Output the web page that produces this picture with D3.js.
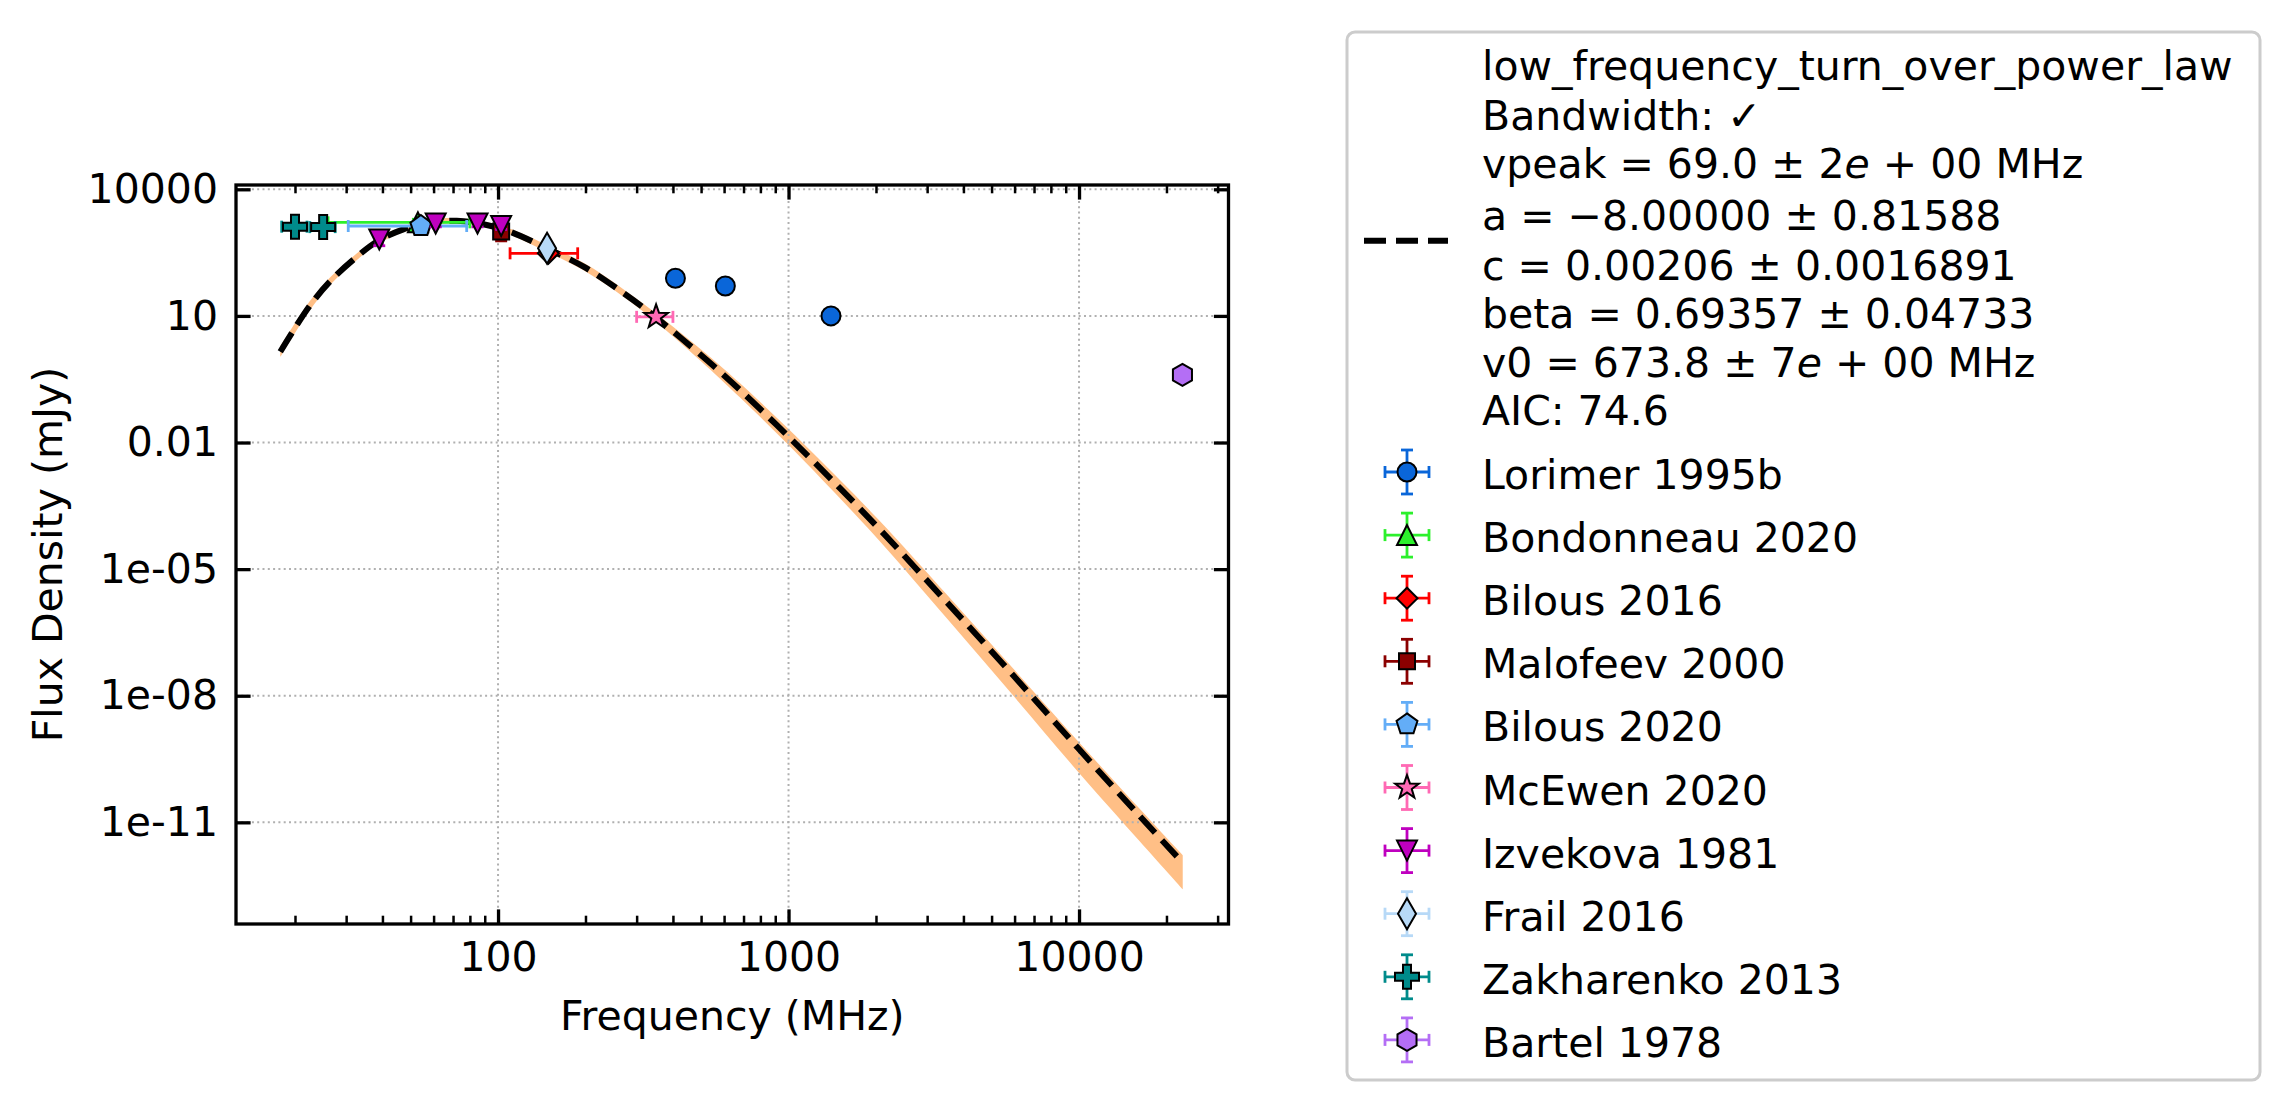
<!DOCTYPE html>
<html>
<head>
<meta charset="utf-8">
<title>low_frequency_turn_over_power_law</title>
<script src="https://cdn.jsdelivr.net/npm/d3@7"></script>
<style>
  html, body { margin: 0; padding: 0; background: #ffffff; overflow: hidden; }
  svg { display: block; }
  text { font-family: "DejaVu Sans", sans-serif; }
</style>
</head>
<body>
<svg width="2289" height="1109" id="mainsvg" style="background-color: #ffffff"></svg>
<script>
// ---- values ----
// fitted model (MHz, mJy) and its uncertainty band
const fitFreq = [17.8, 19.7, 22.5, 26.4, 32.6, 38.2, 47.2, 58.3, 72.1, 89, 110, 147, 197, 270, 347, 523, 681, 998, 1503, 2065, 3505, 5943, 9955, 16230, 22750];
const fitFlux = [1.42, 4.4, 17.5, 66, 250, 573, 1127, 1617, 1803, 1482, 988, 400, 147, 35, 9.6, 0.9, 0.175, 0.014, 8.3e-4, 8.6e-5, 1.65e-6, 3.0e-8, 5.6e-10, 1.38e-11, 1.1e-12];
const fitHigh = [1.92, 5.8, 22.5, 81.2, 300, 673, 1324, 1900, 2070, 1700, 1161, 481, 181, 43.1, 12.1, 1.24, 0.253, 0.0212, 1.29e-3, 1.36e-4, 2.5e-6, 4.34e-8, 8.09e-10, 2.04e-11, 1.67e-12];
const fitLow = [1.05, 3.34, 13.6, 53.7, 208, 488, 959, 1376, 1570, 1291, 841, 333, 120, 28.5, 7.6, 0.637, 0.116, 0.00883, 4.77e-4, 4.52e-5, 6.88e-7, 9.93e-9, 1.54e-10, 3.46e-12, 2.58e-13];

const fitLabelLines = [
  "low_frequency_turn_over_power_law",
  "Bandwidth: ✓",
  "vpeak = 69.0 ± 2{e} + 00 MHz",
  "a = −8.00000 ± 0.81588",
  "c = 0.00206 ± 0.0016891",
  "beta = 0.69357 ± 0.04733",
  "v0 = 673.8 ± 7{e} + 00 MHz",
  "AIC: 74.6"
];

// measurements per reference
const seriesNames = ["Lorimer 1995b", "Bondonneau 2020", "Bilous 2016", "Malofeev 2000", "Bilous 2020",
  "McEwen 2020", "Izvekova 1981", "Frail 2016", "Zakharenko 2013", "Bartel 1978"];
const seriesFreq = [[408, 606, 1400], [53], [149], [102.5], [54.25], [350], [39, 61, 85, 102.5], [147.5], [20, 25], [22700]];
const seriesFreqErr = [[2, 4, 20], [27], [39], [1], [23.75], [50], [1, 1, 1, 1], [4], [2, 2.5], [250]];
const seriesFlux = [[78, 51, 10], [1650], [304], [1000], [1350], [9.5], [650, 1550, 1550, 1350], [400], [1300, 1270], [0.4]];
const seriesFluxErr = [[8, 5, 1], [300], [50], [400], [200], [1], [190, 260, 260, 230], [40], [200, 190], [0.04]];

// axes
const xTicks = [100, 1000, 10000];
const xTickLabels = ["100", "1000", "10000"];
const xMinorTicks = [20, 30, 40, 50, 60, 70, 80, 90, 200, 300, 400, 500, 600, 700, 800, 900,
  2000, 3000, 4000, 5000, 6000, 7000, 8000, 9000, 20000, 30000];
const yTicks = [1e4, 10, 1e-2, 1e-5, 1e-8, 1e-11];
const yTickLabels = ["10000", "10", "0.01", "1e-05", "1e-08", "1e-11"];

// ---- styles ----
const seriesColors = ["#0a66d9", "#2cf02c", "#ff0000", "#8b0000", "#63adf7", "#ff69b4", "#bf00bf", "#b7d9f7", "#008b8b", "#b46ef5"];
const seriesMarkers = ["circle", "triangleUp", "diamond", "square", "pentagon", "star", "triangleDown", "thinDiamond", "plus", "hexagon"];

const svg = d3.select("#mainsvg");
const plot = { left: 236, top: 185, right: 1228.5, bottom: 924 };
const innerWidth = plot.right - plot.left;
const innerHeight = plot.bottom - plot.top;
const fontSize = 41;

const g = svg.append("g").attr("transform", `translate(${plot.left}, ${plot.top})`);

const xScale = d3.scaleLog().domain([12.53, 32700]).range([0, innerWidth]);
const yScale = d3.scaleLog().domain([3.9e-14, 12645]).range([innerHeight, 0]);

function polygon(pts) {
  return "M" + pts.map((p) => p[0].toFixed(2) + "," + p[1].toFixed(2)).join("L") + "Z";
}
function regular(n, r) {
  return d3.range(n).map((k) => {
    const a = -Math.PI / 2 + (2 * Math.PI * k) / n;
    return [r * Math.cos(a), r * Math.sin(a)];
  });
}
function markerPath(type) {
  switch (type) {
    case "circle": {
      const r = 9.5;
      return `M${r},0A${r},${r} 0 1,1 ${-r},0A${r},${r} 0 1,1 ${r},0Z`;
    }
    case "triangleUp": return polygon([[0, -10], [10, 10], [-10, 10]]);
    case "triangleDown": return polygon([[0, 10], [-10, -10], [10, -10]]);
    case "square": return polygon([[-8, -8], [8, -8], [8, 8], [-8, 8]]);
    case "diamond": return polygon([[0, -10.5], [10.5, 0], [0, 10.5], [-10.5, 0]]);
    case "thinDiamond": return polygon([[0, -15.5], [9, 0], [0, 15.5], [-9, 0]]);
    case "pentagon": return polygon(regular(5, 11));
    case "hexagon": return polygon(regular(6, 11));
    case "star": {
      const pts = d3.range(10).map((k) => {
        const a = -Math.PI / 2 + (Math.PI * k) / 5;
        const r = k % 2 === 0 ? 12.5 : 5;
        return [r * Math.cos(a), r * Math.sin(a)];
      });
      return polygon(pts);
    }
    case "plus": {
      const s = 12, w = 4;
      return polygon([[-w, -s], [w, -s], [w, -w], [s, -w], [s, w], [w, w], [w, s], [-w, s], [-w, w], [-s, w], [-s, -w], [-w, -w]]);
    }
  }
}

// uncertainty band
const fitRows = fitFreq.map((f, i) => ({ f, s: fitFlux[i], lo: fitLow[i], hi: fitHigh[i] }));
const band = d3.area()
  .x((d) => xScale(d.f))
  .y0((d) => yScale(d.lo))
  .y1((d) => yScale(d.hi))
  .curve(d3.curveCatmullRom.alpha(0.5));
g.append("path").datum(fitRows).attr("d", band).attr("fill", "#ffbf86");

// grid
const gridStyle = (sel) => sel.attr("stroke", "#b0b0b0").attr("stroke-width", 2).attr("stroke-dasharray", "2,3.3");
g.append("g").selectAll("line").data(xTicks).join("line")
  .attr("x1", (d) => xScale(d)).attr("x2", (d) => xScale(d))
  .attr("y1", 0).attr("y2", innerHeight).call(gridStyle);
g.append("g").selectAll("line").data(yTicks).join("line")
  .attr("y1", (d) => yScale(d)).attr("y2", (d) => yScale(d))
  .attr("x1", 0).attr("x2", innerWidth).call(gridStyle);

// fit line
const line = d3.line()
  .x((d) => xScale(d.f))
  .y((d) => yScale(d.s))
  .curve(d3.curveCatmullRom.alpha(0.5));
g.append("path").datum(fitRows).attr("d", line)
  .attr("fill", "none").attr("stroke", "black").attr("stroke-width", 6)
  .attr("stroke-dasharray", "22,10");

// error bars + markers
function errorBar(sel, x0, y0, x1, y1, col, capVertical) {
  sel.append("line").attr("x1", x0).attr("y1", y0).attr("x2", x1).attr("y2", y1)
    .attr("stroke", col).attr("stroke-width", 2.8);
  const c = 6;
  [[x0, y0], [x1, y1]].forEach(([cx, cy]) => {
    sel.append("line")
      .attr("x1", capVertical ? cx : cx - c).attr("x2", capVertical ? cx : cx + c)
      .attr("y1", capVertical ? cy - c : cy).attr("y2", capVertical ? cy + c : cy)
      .attr("stroke", col).attr("stroke-width", 2.8);
  });
}

seriesNames.forEach((name, i) => {
  const col = seriesColors[i];
  const rows = seriesFreq[i].map((f, j) => ({
    f, df: seriesFreqErr[i][j], s: seriesFlux[i][j], ds: seriesFluxErr[i][j]
  }));
  const sg = g.append("g").attr("class", "series");
  rows.forEach((d) => {
    const x = xScale(d.f), y = yScale(d.s);
    errorBar(sg, x, yScale(d.s - d.ds), x, yScale(d.s + d.ds), col, false);
    errorBar(sg, xScale(d.f - d.df), y, xScale(d.f + d.df), y, col, true);
  });
  sg.selectAll("path.marker").data(rows).join("path").attr("class", "marker")
    .attr("d", markerPath(seriesMarkers[i]))
    .attr("transform", (d) => `translate(${xScale(d.f)}, ${yScale(d.s)})`)
    .attr("fill", col).attr("stroke", "black").attr("stroke-width", 2);
});

// axes
function styleAxis(sel, width, labelled) {
  sel.select(".domain").remove();
  sel.selectAll(".tick line").attr("stroke", "black").attr("stroke-width", width);
  if (labelled) {
    sel.selectAll(".tick text").attr("fill", "black");
  } else {
    sel.selectAll(".tick text").remove();
  }
  sel.attr("font-size", fontSize).attr("font-family", "DejaVu Sans, sans-serif");
}
const xAxis = d3.axisBottom(xScale).tickValues(xTicks).tickFormat((d, i) => xTickLabels[i])
  .tickSize(-14.6).tickSizeOuter(0).tickPadding(18);
const xMinor = d3.axisBottom(xScale).tickValues(xMinorTicks).tickSize(-8.3).tickSizeOuter(0);
const xTop = d3.axisTop(xScale).tickValues(xTicks).tickSize(-14.6).tickSizeOuter(0);
const xTopMinor = d3.axisTop(xScale).tickValues(xMinorTicks).tickSize(-8.3).tickSizeOuter(0);
const yAxis = d3.axisLeft(yScale).tickValues(yTicks).tickFormat((d, i) => yTickLabels[i])
  .tickSize(-14.6).tickSizeOuter(0).tickPadding(18);
const yRight = d3.axisRight(yScale).tickValues(yTicks).tickSize(-14.6).tickSizeOuter(0);

g.append("g").attr("transform", `translate(0, ${innerHeight})`).call(xAxis).call(styleAxis, 3.3, true);
g.append("g").attr("transform", `translate(0, ${innerHeight})`).call(xMinor).call(styleAxis, 2.5, false);
g.append("g").call(xTop).call(styleAxis, 3.3, false);
g.append("g").call(xTopMinor).call(styleAxis, 2.5, false);
g.append("g").call(yAxis).call(styleAxis, 3.3, true);
g.append("g").attr("transform", `translate(${innerWidth}, 0)`).call(yRight).call(styleAxis, 3.3, false);

// spines
g.append("rect").attr("width", innerWidth).attr("height", innerHeight)
  .attr("fill", "none").attr("stroke", "black").attr("stroke-width", 3.3);

// axis labels
svg.append("text").attr("x", (plot.left + plot.right) / 2).attr("y", 1030)
  .attr("text-anchor", "middle").attr("font-size", fontSize).text("Frequency (MHz)");
svg.append("text").attr("transform", `translate(62, ${(plot.top + plot.bottom) / 2}) rotate(-90)`)
  .attr("text-anchor", "middle").attr("font-size", fontSize).text("Flux Density (mJy)");

// legend
const legend = svg.append("g");
legend.append("rect").attr("x", 1347).attr("y", 32).attr("width", 913).attr("height", 1048)
  .attr("rx", 8).attr("fill", "white").attr("stroke", "#cccccc").attr("stroke-width", 3);

const labelX = 1482;
const fitBaselines = [80, 130, 178, 230, 280, 328, 377, 425];
fitLabelLines.forEach((s, i) => {
  const t = legend.append("text").attr("x", labelX).attr("y", fitBaselines[i]).attr("font-size", fontSize);
  const parts = s.split("{e}");
  parts.forEach((p, k) => {
    t.append("tspan").text(p);
    if (k < parts.length - 1) t.append("tspan").attr("font-style", "italic").text("e");
  });
});
legend.append("line").attr("x1", 1364).attr("x2", 1448).attr("y1", 240.7).attr("y2", 240.7)
  .attr("stroke", "black").attr("stroke-width", 6).attr("stroke-dasharray", "22,10");

seriesNames.forEach((name, i) => {
  const cy = 472 + 63.1 * i;
  const cx = 1407;
  const col = seriesColors[i];
  const lg = legend.append("g");
  errorBar(lg, cx, cy + 22, cx, cy - 22, col, false);
  errorBar(lg, cx - 22, cy, cx + 22, cy, col, true);
  lg.append("path").attr("d", markerPath(seriesMarkers[i]))
    .attr("transform", `translate(${cx}, ${cy})`)
    .attr("fill", col).attr("stroke", "black").attr("stroke-width", 2);
  lg.append("text").attr("x", labelX).attr("y", cy + 17).attr("font-size", fontSize).text(name);
});
</script>
</body>
</html>
